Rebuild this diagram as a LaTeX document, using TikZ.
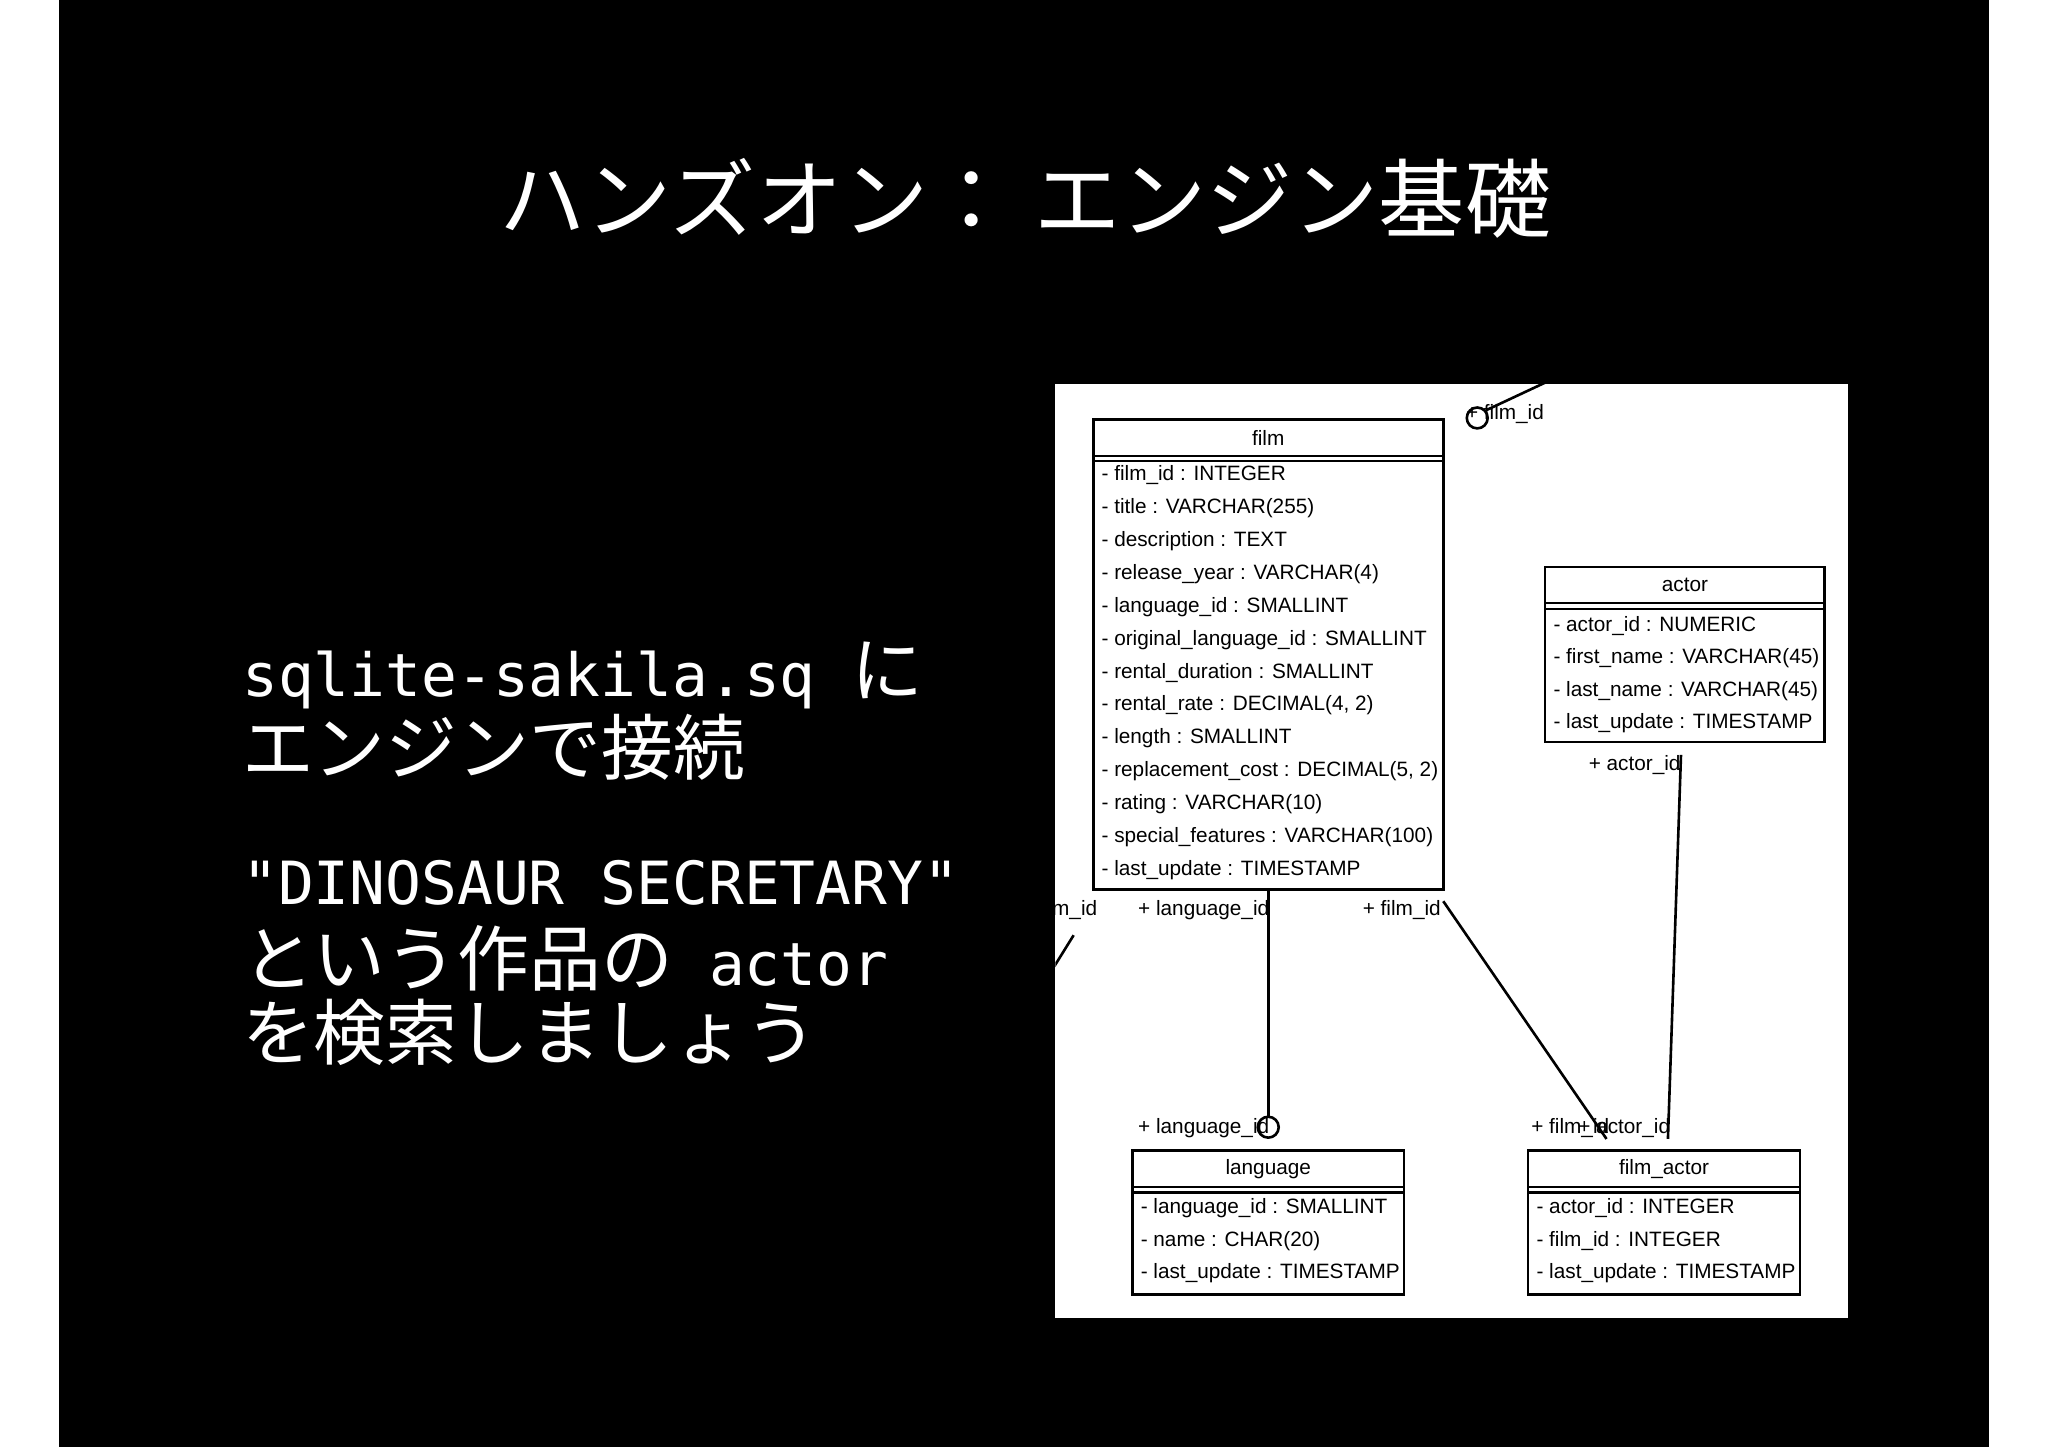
\documentclass[tikz,border=0pt]{standalone}
\usepackage{fontspec}
\setmainfont{Liberation Sans}
\newfontfamily\cjk{Noto Sans CJK JP}
\newfontfamily\mono{DejaVu Sans Mono}
\newcommand{\jp}{\cjk\fontsize{27.5pt}{29pt}\selectfont}
\begin{document}
\begin{tikzpicture}[x=0.5pt,y=-0.5pt,
  row/.style={anchor=west,inner sep=0pt,font=\fontsize{7.95pt}{9pt}\selectfont},
  lbl/.style={anchor=west,inner sep=0pt,font=\fontsize{7.95pt}{9pt}\selectfont},
  tbox/.style={draw,line width=1pt},
  big/.style={anchor=west,inner sep=0pt,text=white}]
\useasboundingbox (0,0) rectangle (1568,1108);
\fill[white] (0,0) rectangle (1568,1108);
\fill[black] (45,0) rectangle (1523,1108);
\node[text=white,font=\cjk\fontsize{33pt}{35pt}\selectfont] (title) at (785,152) {ハンズオン： エンジン基礎};
\begin{scope}[font=\mono\fontsize{22.8pt}{24pt}\selectfont]
\node[big] (l1) at (185,517) {sqlite-sakila.sq {\jp に}};
\node[big] (l2) at (185,572) {\jp エンジンで接続};
\node[big] (l3) at (185,676) {"DINOSAUR SECRETARY"};
\node[big] (l4) at (185,734) {{\jp という作品の} actor};
\node[big] (l5) at (185,790) {\jp を検索しましょう};
\end{scope}
\fill[white] (808,294) rectangle (1415,1009);
\begin{scope}
\clip (808,294) rectangle (1415,1009);
% film
\draw[tbox] (837,321) rectangle (1105,681);
\draw[line width=0.8pt] (837,349) -- (1105,349) (837,353) -- (1105,353);
\node[lbl,anchor=center] (filmh) at (971,335) {film};
\foreach \t [count=\i from 0] in {- film\_id : INTEGER,- title : VARCHAR(255),- description : TEXT,- release\_year : VARCHAR(4),- language\_id : SMALLINT,- original\_language\_id : SMALLINT,- rental\_duration : SMALLINT,- rental\_rate : DECIMAL(4{,} 2),- length : SMALLINT,- replacement\_cost : DECIMAL(5{,} 2),- rating : VARCHAR(10),- special\_features : VARCHAR(100),- last\_update : TIMESTAMP}
  \node[row] (f\i) at (843,364+25.17*\i) {\t};
% actor
\draw[tbox] (1183,434) rectangle (1397,568);
\draw[line width=0.8pt] (1183,462) -- (1397,462) (1183,466) -- (1397,466);
\node[lbl,anchor=center] (acth) at (1290,448) {actor};
\foreach \t [count=\i from 0] in {- actor\_id : NUMERIC,- first\_name : VARCHAR(45),- last\_name : VARCHAR(45),- last\_update : TIMESTAMP}
  \node[row] (a\i) at (1189,479+25*\i) {\t};
% language
\draw[tbox] (867,881) rectangle (1075,991);
\draw[line width=0.8pt] (867,909) -- (1075,909) (867,913) -- (1075,913);
\node[lbl,anchor=center] (langh) at (971,895) {language};
\foreach \t [count=\i from 0] in {- language\_id : SMALLINT,- name : CHAR(20),- last\_update : TIMESTAMP}
  \node[row] (g\i) at (873,925+25*\i) {\t};
% film_actor
\draw[tbox] (1170,881) rectangle (1378,991);
\draw[line width=0.8pt] (1170,909) -- (1378,909) (1170,913) -- (1378,913);
\node[lbl,anchor=center] (fah) at (1274,895) {film\_actor};
\foreach \t [count=\i from 0] in {- actor\_id : INTEGER,- film\_id : INTEGER,- last\_update : TIMESTAMP}
  \node[row] (fa\i) at (1176,925+25*\i) {\t};
% connectors
\coordinate (c1a) at (971,681); \coordinate (c1b) at (971,855);
\draw[line width=1pt] (c1a) -- (c1b);
\draw[line width=1pt] (971,863) circle (8);
\coordinate (c2a) at (1105,690); \coordinate (c2b) at (1230,872);
\draw[line width=1pt] (c2a) -- (c2b);
\coordinate (c3a) at (1287,578); \coordinate (c3b) at (1277,872);
\draw[line width=1pt] (c3a) -- (c3b);
\draw[line width=1pt] (1131,320) circle (8);
\coordinate (c4a) at (1138,314); \coordinate (c4b) at (1185,292);
\draw[line width=1pt] (c4a) -- (c4b);
\coordinate (c5a) at (822,716); \coordinate (c5b) at (804,745);
\draw[line width=1pt] (c5a) -- (c5b);
\node[lbl] (t1) at (871,697) {+ language\_id};
\node[lbl] (t2) at (871,864) {+ language\_id};
\node[lbl] (t3) at (1043,697) {+ film\_id};
\node[lbl] (t4) at (1172,864) {+ film\_id};
\node[lbl] (t5) at (1216,586) {+ actor\_id};
\node[lbl] (t6) at (1208,864) {+ actor\_id};
\node[lbl] (t7) at (1122,317) {+ film\_id};
\node[lbl] (t8) at (780,697) {+ film\_id};
\end{scope}
\end{tikzpicture}
\end{document}
